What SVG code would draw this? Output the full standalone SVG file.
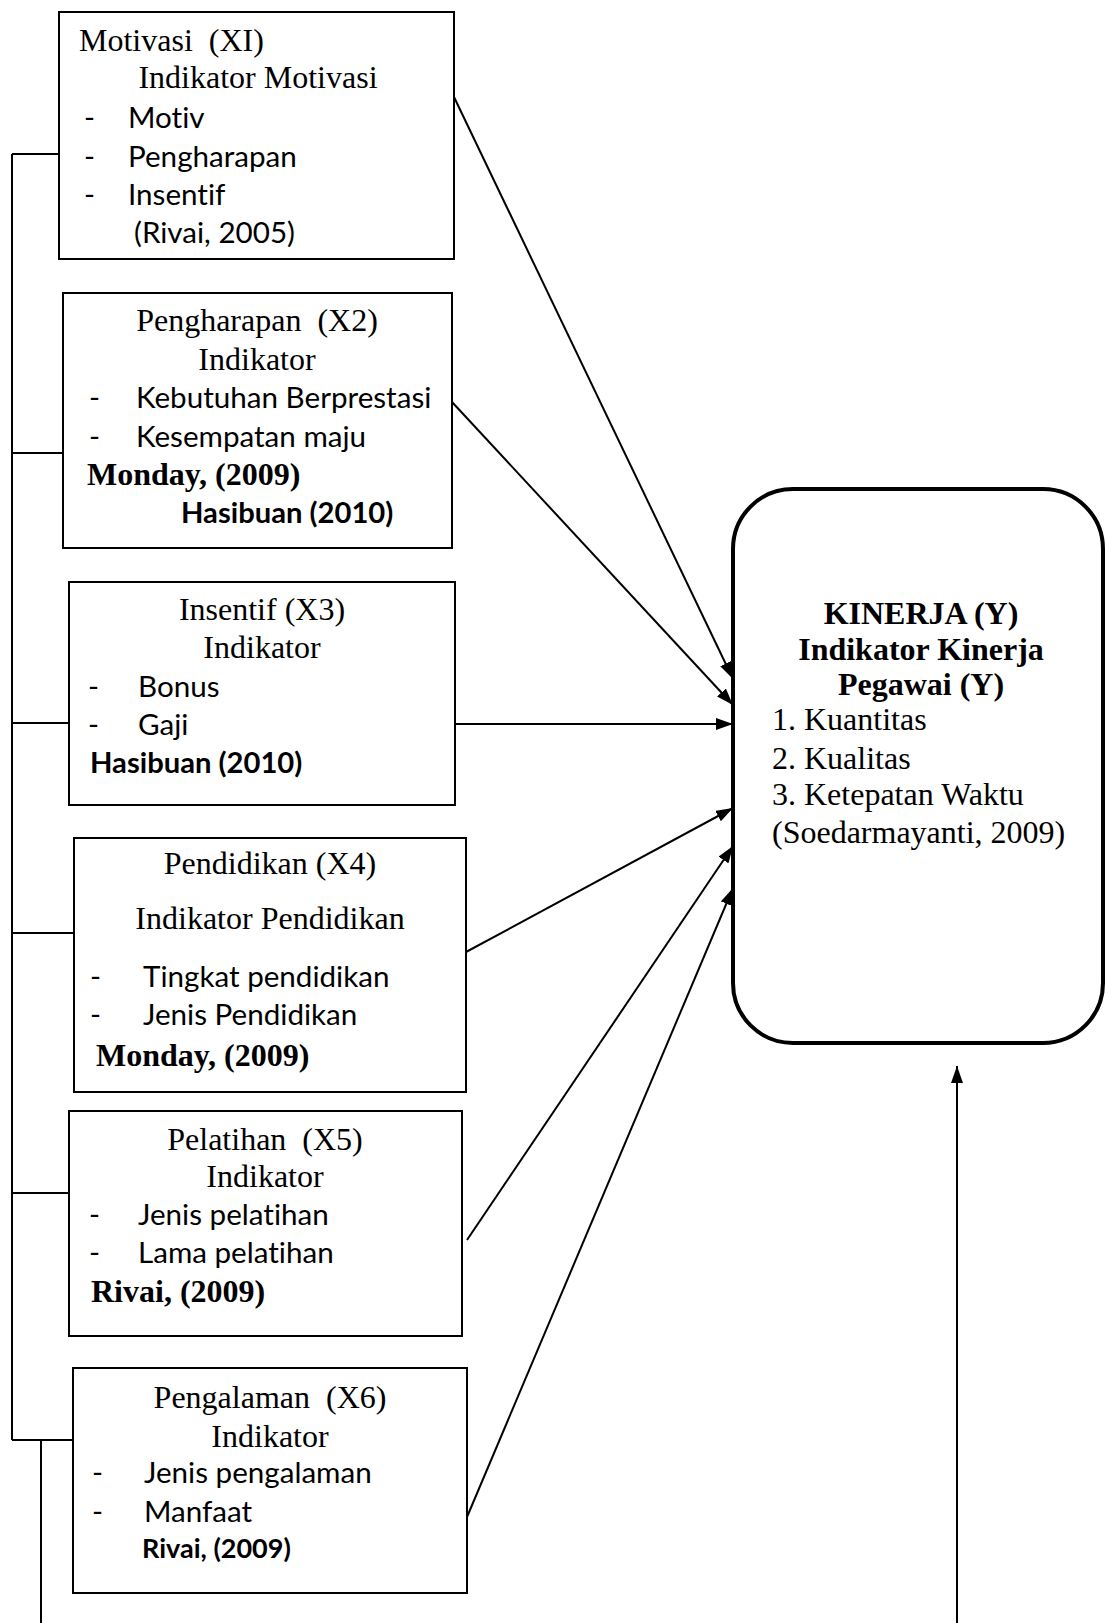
<svg xmlns="http://www.w3.org/2000/svg" width="1105" height="1623" viewBox="0 0 1105 1623">
<style>
.box{fill:#fff;stroke:#000;stroke-width:2}
.kin{fill:#fff;stroke:#000;stroke-width:4}
.ln{fill:none;stroke:#000;stroke-width:2}
.ar{fill:none;stroke:#000;stroke-width:2;marker-end:url(#ah)}
text{white-space:pre;font-variant-ligatures:none;fill:#000}
.t{font-family:"Liberation Serif","Times New Roman",serif;font-size:32px}
.tb{font-family:"Liberation Serif","Times New Roman",serif;font-size:32px;font-weight:bold}
.c{font-family:Lato,"Liberation Sans",sans-serif;font-size:29.6px}
.cb{font-family:Lato,"Liberation Sans",sans-serif;font-size:29.2px;font-weight:bold}
.m{text-anchor:middle}
</style>
<defs>
<marker id="ah" markerUnits="userSpaceOnUse" markerWidth="18" markerHeight="14" refX="17" refY="6" orient="auto">
<path d="M0,0 L17,6 L0,12 Z" fill="#000"/>
</marker>
</defs>
<rect width="1105" height="1623" fill="#fff"/>

<g id="connectors">
<path class="ln" d="M12,154 V1440 M12,154 H59 M12,453 H63 M12,723 H72 M12,933 H74 M12,1193 H69 M12,1440 H73 M41,1440 V1623"/>
<line class="ar" x1="454" y1="97" x2="733" y2="679"/>
<line class="ar" x1="452" y1="402" x2="733" y2="705"/>
<line class="ar" x1="455" y1="724" x2="733" y2="724"/>
<line class="ar" x1="466" y1="952" x2="733" y2="808"/>
<line class="ar" x1="467" y1="1240" x2="733" y2="846"/>
<line class="ar" x1="467" y1="1517" x2="733" y2="888"/>
<line class="ar" x1="957" y1="1623" x2="957" y2="1066"/>
</g>

<g id="x1">
<rect class="box" x="59" y="12" width="395" height="247"/>
<text class="t" x="79" y="51">Motivasi  (XI)</text>
<text class="t m" x="258" y="88">Indikator Motivasi</text>
<text class="c" x="84" y="128">-</text><text class="c" x="128" y="128">Motiv</text>
<text class="c" x="84" y="167">-</text><text class="c" x="128" y="167">Pengharapan</text>
<text class="c" x="84" y="205">-</text><text class="c" x="128" y="205">Insentif</text>
<text class="c" x="134" y="243">(Rivai, 2005)</text>
</g>

<g id="x2">
<rect class="box" x="63" y="293" width="389" height="255"/>
<text class="t m" x="257" y="331">Pengharapan  (X2)</text>
<text class="t m" x="257" y="370">Indikator</text>
<text class="c" x="89" y="408">-</text><text class="c" x="136" y="408">Kebutuhan Berprestasi</text>
<text class="c" x="89" y="447">-</text><text class="c" x="136" y="447">Kesempatan maju</text>
<text class="tb" x="87" y="485">Monday, (2009)</text>
<text class="cb" x="181" y="523">Hasibuan (2010)</text>
</g>

<g id="x3">
<rect class="box" x="69" y="582" width="386" height="223"/>
<text class="t m" x="262" y="620">Insentif (X3)</text>
<text class="t m" x="262" y="658">Indikator</text>
<text class="c" x="88" y="697">-</text><text class="c" x="138" y="697">Bonus</text>
<text class="c" x="88" y="735">-</text><text class="c" x="138" y="735">Gaji</text>
<text class="cb" x="90" y="773">Hasibuan (2010)</text>
</g>

<g id="x4">
<rect class="box" x="74" y="838" width="392" height="254"/>
<text class="t m" x="270" y="874">Pendidikan (X4)</text>
<text class="t m" x="270" y="929">Indikator Pendidikan</text>
<text class="c" x="90" y="987">-</text><text class="c" x="143" y="987">Tingkat pendidikan</text>
<text class="c" x="90" y="1025">-</text><text class="c" x="143" y="1025">Jenis Pendidikan</text>
<text class="tb" x="96" y="1066">Monday, (2009)</text>
</g>

<g id="x5">
<rect class="box" x="69" y="1111" width="393" height="225"/>
<text class="t m" x="265" y="1150">Pelatihan  (X5)</text>
<text class="t m" x="265" y="1187">Indikator</text>
<text class="c" x="89" y="1225">-</text><text class="c" x="138" y="1225">Jenis pelatihan</text>
<text class="c" x="89" y="1263">-</text><text class="c" x="138" y="1263">Lama pelatihan</text>
<text class="tb" x="91" y="1302">Rivai, (2009)</text>
</g>

<g id="x6">
<rect class="box" x="73" y="1368" width="394" height="225"/>
<text class="t m" x="270" y="1408">Pengalaman  (X6)</text>
<text class="t m" x="270" y="1447">Indikator</text>
<text class="c" x="92" y="1483">-</text><text class="c" x="144" y="1483">Jenis pengalaman</text>
<text class="c" x="92" y="1522">-</text><text class="c" x="144" y="1522">Manfaat</text>
<text class="cb" x="142" y="1558" style="font-size:27px">Rivai, (2009)</text>
</g>

<g id="y">
<rect class="kin" x="733" y="489" width="370" height="554" rx="60" ry="60"/>
<text class="tb m" x="921" y="624">KINERJA (Y)</text>
<text class="tb m" x="921" y="660">Indikator Kinerja</text>
<text class="tb m" x="921" y="695">Pegawai (Y)</text>
<text class="t" x="772" y="730">1. Kuantitas</text>
<text class="t" x="772" y="769">2. Kualitas</text>
<text class="t" x="772" y="805">3. Ketepatan Waktu</text>
<text class="t" x="772" y="843">(Soedarmayanti, 2009)</text>
</g>
</svg>
